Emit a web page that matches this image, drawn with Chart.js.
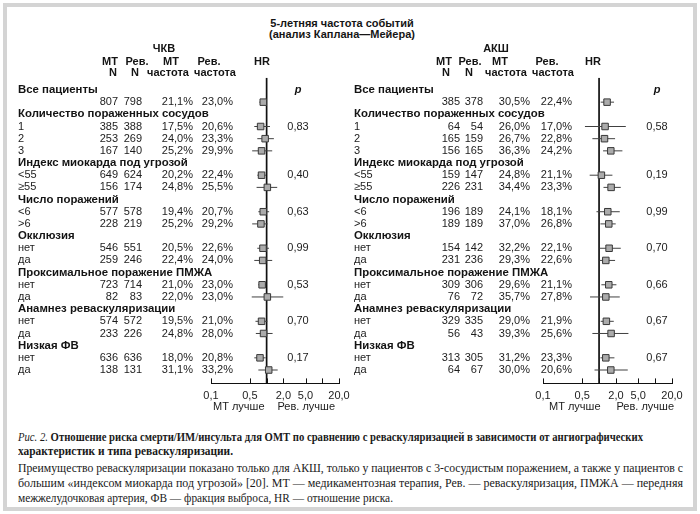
<!DOCTYPE html>
<html lang="ru"><head><meta charset="utf-8">
<title>Forest plot</title>
<script src="https://cdn.jsdelivr.net/npm/chart.js@4.4.1/dist/chart.umd.min.js"></script>
<style>
html,body{margin:0;padding:0;background:#fff;}
body{width:700px;height:514px;position:relative;overflow:hidden;font-family:"Liberation Sans",Arial,sans-serif;color:#151515;}
#frame{position:absolute;left:3px;top:3px;width:694px;height:508px;box-sizing:border-box;border:4px solid #d4d4d4;}
.title{position:absolute;left:192px;width:300px;text-align:center;font-weight:bold;font-size:11px;line-height:12px;white-space:nowrap;}
canvas{position:absolute;top:0;}
.cap{position:absolute;left:18px;font-family:"Liberation Serif","Times New Roman",serif;font-size:12.5px;line-height:14px;white-space:nowrap;transform-origin:0 50%;color:#1a1a1a;}
.b{font-weight:bold;}
</style></head>
<body>
<div id="frame"></div>
<div class="title" style="top:17px">5-летняя частота событий</div>
<div class="title" style="top:28px">(анализ Каплана—Мейера)</div>
<canvas id="pci" width="360" height="420" style="left:0"></canvas>
<canvas id="cabg" width="350" height="420" style="left:350px"></canvas>
<div class="cap b" data-w="625" data-m="j" style="top:430px"><i style="font-weight:normal">Рис. 2.</i> Отношение риска смерти/ИМ/инсульта для ОМТ по сравнению с реваскуляризацией в зависимости от ангиографических</div>
<div class="cap b" data-w="215" data-m="f" style="top:444px">характеристик и типа реваскуляризации.</div>
<div class="cap" data-w="665" data-m="j" style="top:461px">Преимущество реваскуляризации показано только для АКШ, только у пациентов с 3-сосудистым поражением, а также у пациентов с</div>
<div class="cap" data-w="665" data-m="j" style="top:476px">большим «индексом миокарда под угрозой» [20]. МТ — медикаментозная терапия, Рев. — реваскуляризация, ПМЖА — передняя</div>
<div class="cap" data-w="375" data-m="f" style="top:491px">межжелудочковая артерия, ФВ — фракция выброса, HR — отношение риска.</div>
<script>
// ---------- DATA ----------
const groupNames = ["Все пациенты","Количество пораженных сосудов","Индекс миокарда под угрозой","Число поражений","Окклюзия","Проксимальное поражение ПМЖА","Анамнез реваскуляризации","Низкая ФВ"];
const groupSizes = [1,3,2,2,2,2,2,2];
const subgroupLabels = ["","1","2","3","<55","≥55","<6",">6","нет","да","нет","да","нет","да","нет","да"];
const tickValues = [0.1,0.5,1,2,5,10,20];
const tickLabels = ["0,1","0,5","","2,0","5,0","","20,0"];

// ЧКВ
const pciMtN   = [807,385,253,167,649,156,577,228,546,259,723,82,574,233,636,138];
const pciRevN  = [798,388,269,140,624,174,578,219,551,246,714,83,572,226,636,131];
const pciMtRate  = [21.1,17.5,24.0,25.2,20.2,24.8,19.4,25.2,20.5,22.4,21.0,22.0,19.5,24.8,18.0,31.1];
const pciRevRate = [23.0,20.6,23.3,29.9,22.4,25.5,20.7,29.2,22.6,24.0,23.0,23.0,21.0,28.0,20.8,33.2];
const pciHR = [0.87,0.78,0.94,0.81,0.81,1.03,0.87,0.79,0.86,0.85,0.83,1.03,0.81,0.88,0.76,1.09];
const pciLo = [0.74,0.60,0.68,0.55,0.68,0.66,0.71,0.55,0.68,0.60,0.71,0.54,0.63,0.64,0.60,0.71];
const pciHi = [1.01,1.15,1.35,1.26,0.97,1.55,1.11,1.04,1.10,1.26,0.98,1.99,1.03,1.28,0.96,1.58];
const pciP  = [0.83,0.40,0.63,0.99,0.53,0.70,0.17];

// АКШ
const cabgMtN   = [385,64,165,156,159,226,196,189,154,231,309,76,329,56,313,64];
const cabgRevN  = [378,54,159,165,147,231,189,189,142,236,306,72,335,43,305,67];
const cabgMtRate  = [30.5,26.0,26.7,36.3,24.8,34.4,24.1,37.0,32.2,29.3,29.6,35.7,29.0,39.3,31.2,30.0];
const cabgRevRate = [22.4,17.0,22.8,24.2,21.1,23.3,18.1,26.8,22.1,22.6,21.1,27.8,21.9,25.6,23.3,20.6];
const cabgHR = [1.39,1.28,1.25,1.62,1.10,1.64,1.43,1.49,1.51,1.32,1.49,1.32,1.35,1.64,1.32,1.62];
const cabgLo = [1.07,0.56,0.76,1.18,0.68,1.20,0.90,1.06,1.03,1.03,1.10,0.69,1.07,0.76,1.06,0.83];
const cabgHi = [1.85,3.00,1.93,2.61,1.73,2.44,2.34,1.98,2.44,1.93,2.04,2.34,1.83,3.34,1.88,3.25];
const cabgP  = [0.58,0.19,0.99,0.70,0.66,0.67,0.67];

// ---------- LAYOUT / DRAWING ----------
const FONT = '"Liberation Sans", Arial, sans-serif';
const REG = '11px ' + FONT, BOLD = 'bold 11px ' + FONT, BOLDG = 'bold 11.4px ' + FONT;
const Y_MIN = -1, Y_MAX = 24.1;

function layoutRows(){
  const headerRows = [], itemRows = [], firstRows = [];
  let r = 0;
  groupSizes.forEach((n, g) => {
    headerRows.push(r); r++;
    if (g > 0) firstRows.push(r);
    for (let k = 0; k < n; k++) { itemRows.push(r); r++; }
  });
  return {headerRows, itemRows, firstRows};
}
const rows = layoutRows();
const fmtRate = v => v.toFixed(1).replace('.', ',') + '%';
const fmtP = v => v.toFixed(2).replace('.', ',');

function makePanel(id, P){
  const off = P.offset;
  const X = a => a - off;
  const squares = P.hr.map((v, i) => ({x: v, y: rows.itemRows[i]}));
  const whiskers = [];
  P.lo.forEach((lo, i) => {
    whiskers.push({x: lo, y: rows.itemRows[i]}, {x: P.hi[i], y: rows.itemRows[i]}, {x: null, y: null});
  });
  const refLine = [{x: 1, y: Y_MIN}, {x: 1, y: Y_MAX}];
  const canvas = document.getElementById(id);
  const plugin = {
    id: 'table_' + id,
    afterDraw(chart){
      const ctx = chart.ctx, ys = chart.scales.y, xs = chart.scales.x;
      const Y = r => ys.getPixelForValue(r);
      const y0 = Y(0);
      ctx.save();
      ctx.textBaseline = 'middle';
      ctx.fillStyle = '#141414';
      ctx.font = BOLD; ctx.textAlign = 'center';
      ctx.fillText(P.name, X(P.nameX), y0 - 41);
      P.head1.forEach(h => ctx.fillText(h[0], X(h[1]), y0 - 28));
      P.head2.forEach(h => ctx.fillText(h[0], X(h[1]), y0 - 17));
      ctx.font = 'italic bold 11px ' + FONT;
      ctx.fillText('p', X(P.pX), y0);
      ctx.font = BOLDG; ctx.textAlign = 'left';
      rows.headerRows.forEach((r, i) => ctx.fillText(groupNames[i], X(P.labelX), Y(r)));
      ctx.font = REG; ctx.fillStyle = '#1c1c1c';
      rows.itemRows.forEach((r, i) => {
        const py = Y(r);
        ctx.textAlign = 'left';
        ctx.fillText(subgroupLabels[i], X(P.labelX), py);
        ctx.textAlign = 'right';
        ctx.fillText(String(P.mtN[i]), X(P.cols[0]), py);
        ctx.fillText(String(P.revN[i]), X(P.cols[1]), py);
        ctx.fillText(fmtRate(P.mtRate[i]), X(P.cols[2]), py);
        ctx.fillText(fmtRate(P.revRate[i]), X(P.cols[3]), py);
      });
      ctx.textAlign = 'center';
      rows.firstRows.forEach((r, i) => ctx.fillText(fmtP(P.p[i]), X(P.pX), Y(r)));
      // upward tick marks on the HR axis
      ctx.strokeStyle = '#111'; ctx.lineWidth = 1;
      tickValues.forEach(v => {
        const px = Math.round(xs.getPixelForValue(v)) + 0.5;
        ctx.beginPath(); ctx.moveTo(px, xs.top); ctx.lineTo(px, xs.top - 5); ctx.stroke();
      });
      ctx.font = REG; ctx.fillStyle = '#1c1c1c';
      ctx.textAlign = 'left'; ctx.fillText('МТ лучше', X(P.betterL), xs.top + 24);
      ctx.textAlign = 'right'; ctx.fillText('Рев. лучше', X(P.betterR), xs.top + 24);
      ctx.restore();
    }
  };
  return new Chart(canvas, {
    type: 'scatter',
    data: {datasets: [
      {data: squares, pointStyle: 'rect', pointRadius: 4.6, backgroundColor: '#ababab', borderColor: '#383838', borderWidth: 1, showLine: false},
      {data: whiskers, showLine: true, spanGaps: false, pointRadius: 0, borderColor: '#404040', borderWidth: 1},
      {data: refLine, showLine: true, pointRadius: 0, borderColor: '#111', borderWidth: 1.7}
    ]},
    options: {
      responsive: false, animation: false, events: [],
      layout: {padding: {left: X(P.axisLeft), right: canvas.width - X(P.axisRight), top: 77.8, bottom: 6.6}},
      plugins: {legend: {display: false}, tooltip: {enabled: false}},
      scales: {
        x: {
          type: 'logarithmic', min: 0.1, max: 20,
          grid: {display: false, drawTicks: false},
          border: {display: true, color: '#111', width: 1},
          afterBuildTicks(s){ s.ticks = tickValues.map(v => ({value: v})); },
          afterFit(s){ s.height = 30; },
          ticks: {autoSkip: false, maxRotation: 0, minRotation: 0, padding: 6, color: '#1c1c1c',
                  font: {family: FONT, size: 11}, callback: (v, i) => tickLabels[i]}
        },
        y: {type: 'linear', display: false, reverse: true, min: Y_MIN, max: Y_MAX}
      }
    },
    plugins: [plugin]
  });
}

makePanel('pci', {
  offset: 0, name: 'ЧКВ', nameX: 164,
  head1: [['МТ',110],['Рев.',137],['МТ',171],['Рев.',209],['HR',262]],
  head2: [['N',113],['N',135],['частота',168],['частота',215]],
  labelX: 18, cols: [118,142,193,233], pX: 298,
  axisLeft: 211, axisRight: 339, betterL: 213, betterR: 335,
  mtN: pciMtN, revN: pciRevN, mtRate: pciMtRate, revRate: pciRevRate,
  hr: pciHR, lo: pciLo, hi: pciHi, p: pciP
});
makePanel('cabg', {
  offset: 350, name: 'АКШ', nameX: 496,
  head1: [['МТ',444],['Рев.',470],['МТ',500],['Рев.',547],['HR',593]],
  head2: [['N',446],['N',469],['частота',506],['частота',553]],
  labelX: 354, cols: [460,483,530,572], pX: 657,
  axisLeft: 543, axisRight: 672, betterL: 549, betterR: 674,
  mtN: cabgMtN, revN: cabgRevN, mtRate: cabgMtRate, revRate: cabgRevRate,
  hr: cabgHR, lo: cabgLo, hi: cabgHi, p: cabgP
});

// fit caption lines to their measured widths in the reference
document.querySelectorAll('.cap').forEach(el => {
  const target = +el.dataset.w, mode = el.dataset.m;
  const w = el.getBoundingClientRect().width;
  if (mode === 'j') {
    const spaces = (el.textContent.match(/ /g) || []).length;
    const extra = target - w;
    if (extra >= 0) el.style.wordSpacing = (extra / spaces) + 'px';
    else el.style.transform = 'scaleX(' + (target / w) + ')';
  } else {
    el.style.transform = 'scaleX(' + (target / w) + ')';
  }
});
</script>
</body></html>
